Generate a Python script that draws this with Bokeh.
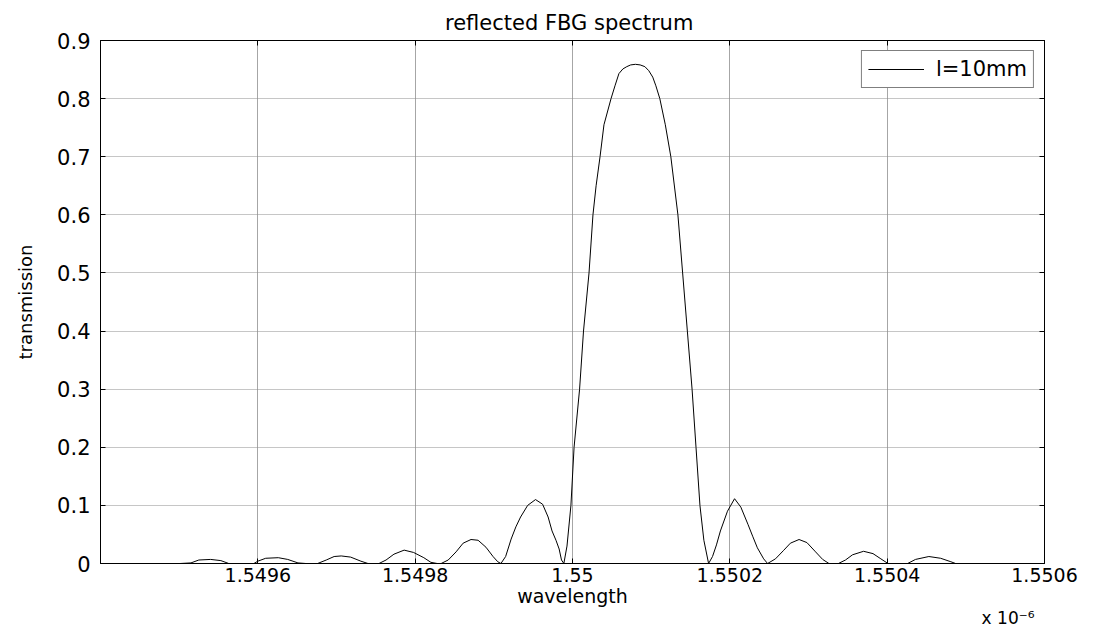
from bokeh.plotting import figure
from bokeh.models import (Range1d, FixedTicker, CustomJSTickFormatter, Title,
                          Legend, LegendItem, LinearAxis)
from bokeh.embed import file_html
from bokeh.resources import INLINE

# ---- data (wavelength in units of 1e-6 m) ----
wavelength = [
    1.549501, 1.549515, 1.549525, 1.549540, 1.549553, 1.549563, 1.549579,
    1.549595, 1.549600, 1.549610, 1.549626, 1.549638, 1.549651, 1.549661,
    1.549676, 1.549687, 1.549697, 1.549706, 1.549718, 1.549731, 1.549740,
    1.549754, 1.549763, 1.549773, 1.549786, 1.549798, 1.549811, 1.549820,
    1.549828, 1.549833, 1.549842, 1.549852, 1.549861, 1.549871, 1.549880,
    1.549890, 1.549899, 1.549905, 1.549909, 1.549915, 1.549922, 1.549928,
    1.549934, 1.549943, 1.549953, 1.549962, 1.549969, 1.549974, 1.549979,
    1.549983, 1.549986, 1.549989, 1.549993, 1.549998, 1.550002, 1.550009,
    1.550014, 1.550021, 1.550026, 1.550030, 1.550035, 1.550040, 1.550049,
    1.550054, 1.550059, 1.550064, 1.550069, 1.550074, 1.550080, 1.550086,
    1.550092, 1.550097, 1.550102, 1.550106, 1.550111, 1.550118, 1.550125,
    1.550134, 1.550140,
    1.550146, 1.550152, 1.550157, 1.550162, 1.550167, 1.550173, 1.550178,
    1.550183, 1.550188, 1.550197, 1.550206, 1.550214, 1.550223, 1.550229,
    1.550235, 1.550243, 1.550248, 1.550258, 1.550268, 1.550277, 1.550288,
    1.550298, 1.550309, 1.550318, 1.550326, 1.550338, 1.550347, 1.550356,
    1.550370, 1.550382, 1.550392, 1.550401, 1.550426, 1.550436, 1.550453,
    1.550468, 1.550481, 1.550487, 1.550500,
]
transmission = [
    0.0, 0.001, 0.006, 0.007, 0.005, 0.0, 0.0,
    0.0, 0.004, 0.009, 0.010, 0.007, 0.001, 0.0,
    0.0, 0.006, 0.012, 0.013, 0.011, 0.004, 0.0,
    0.0, 0.006, 0.016, 0.023, 0.019, 0.010, 0.002,
    0.0, 0.0, 0.006, 0.020, 0.035, 0.0413, 0.040,
    0.028, 0.012, 0.003, 0.0, 0.012, 0.042, 0.063,
    0.080, 0.100, 0.110, 0.102, 0.080, 0.056, 0.040,
    0.025, 0.006, 0.0, 0.03, 0.1, 0.2, 0.3,
    0.4, 0.5, 0.6, 0.65, 0.7, 0.755, 0.8,
    0.822, 0.843, 0.851, 0.855, 0.858, 0.859, 0.858,
    0.855, 0.848, 0.837, 0.822, 0.8, 0.755, 0.7,
    0.6, 0.5,
    0.4, 0.3, 0.2, 0.1, 0.04, 0.0, 0.012,
    0.032, 0.056, 0.090, 0.1115, 0.097, 0.0675, 0.047,
    0.027, 0.008, 0.0, 0.008, 0.022, 0.035, 0.0413,
    0.036, 0.020, 0.007, 0.0, 0.0, 0.006, 0.015,
    0.021, 0.017, 0.008, 0.0, 0.0, 0.007, 0.012,
    0.009, 0.003, 0.0, 0.0,
]
x_ticks = [1.5496, 1.5498, 1.5500, 1.5502, 1.5504, 1.5506]
y_ticks = [0.0, 0.1, 0.2, 0.3, 0.4, 0.5, 0.6, 0.7, 0.8, 0.9]
series_label = "l=10mm"
title_text = "reflected  FBG spectrum"
x_label = "wavelength"
x_multiplier = "x 10\u207b\u2076"
y_label = "transmission"

FONT = "DejaVu Sans"

p = figure(width=1096, height=628, output_backend="svg", toolbar_location=None,
           x_range=Range1d(1.5494, 1.5506), y_range=Range1d(0, 0.9),
           min_border_left=100, min_border_right=52, min_border_top=40,
           min_border_bottom=65)
p.background_fill_color = "white"
p.border_fill_color = "white"
p.outline_line_color = "black"
p.outline_line_width = 1

p.title.text = title_text
p.title.align = "center"
p.title.text_font = FONT
p.title.text_font_size = "21px"
p.title.text_font_style = "normal"
p.title.text_color = "black"
p.title.offset = 0
p.title.standoff = 12

xfmt = CustomJSTickFormatter(code="""
var s = tick.toFixed(4);
s = s.replace(/0+$/, '');
s = s.replace(/\\.$/, '');
return s;
""")
yfmt = CustomJSTickFormatter(code="""
if (Math.abs(tick) < 1e-9) { return '0'; }
return tick.toFixed(1);
""")
blank = CustomJSTickFormatter(code="return '';")

xa = p.xaxis[0]
xa.ticker = FixedTicker(ticks=x_ticks)
xa.formatter = xfmt
xa.axis_label = x_label
ya = p.yaxis[0]
ya.ticker = FixedTicker(ticks=y_ticks)
ya.formatter = yfmt
ya.axis_label = y_label

for ax in (xa, ya):
    ax.axis_line_color = "black"
    ax.major_tick_line_color = "black"
    ax.major_tick_in = 5
    ax.major_tick_out = 0
    ax.minor_tick_line_color = None
    ax.major_label_text_font = FONT
    ax.major_label_text_color = "black"
    ax.axis_label_text_font = FONT
    ax.axis_label_text_font_style = "normal"
    ax.axis_label_text_color = "black"

ya.major_label_text_font_size = "21px"
ya.major_label_standoff = 10
ya.axis_label_text_font_size = "18px"
ya.axis_label_standoff = 18

xa.major_label_text_font_size = "19px"
xa.major_label_standoff = 4
xa.axis_label_text_font_size = "19px"
xa.axis_label_standoff = 0

# box ticks on the top and right edges
top_ax = LinearAxis(ticker=FixedTicker(ticks=x_ticks), formatter=blank,
                    major_tick_in=5, major_tick_out=0, major_label_standoff=0,
                    minor_tick_line_color=None, axis_line_color="black",
                    major_tick_line_color="black")
right_ax = LinearAxis(ticker=FixedTicker(ticks=y_ticks), formatter=blank,
                      major_tick_in=5, major_tick_out=0, major_label_standoff=0,
                      minor_tick_line_color=None, axis_line_color="black",
                      major_tick_line_color="black")
p.add_layout(top_ax, "above")
p.add_layout(right_ax, "right")

# multiplier shown under the right end of the x axis
mult = Title(text=x_multiplier, align="right", vertical_align="top",
             text_font=FONT, text_font_size="17px", text_font_style="normal",
             text_color="black", standoff=-3, offset=10)
p.add_layout(mult, "below")

p.xgrid.ticker = FixedTicker(ticks=x_ticks)
p.ygrid.ticker = FixedTicker(ticks=y_ticks)
p.xgrid.grid_line_color = "#a6a6a6"
p.xgrid.grid_line_width = 1
p.ygrid.grid_line_color = "#8c8c8c"
p.ygrid.grid_line_dash = "1 1"
p.ygrid.grid_line_width = 1

r = p.line(wavelength, transmission, line_color="black", line_width=1)

legend = Legend(items=[LegendItem(label=series_label, renderers=[r])],
                location="top_right")
legend.label_text_font = FONT
legend.label_text_font_size = "21px"
legend.label_text_color = "black"
legend.border_line_color = "black"
legend.border_line_width = 1
legend.background_fill_color = "white"
legend.background_fill_alpha = 1
legend.padding = 6
legend.margin = 10
legend.glyph_width = 56
legend.glyph_height = 24
legend.label_height = 24
legend.label_standoff = 12
legend.spacing = 0
p.add_layout(legend, "center")

open("out.html", "w").write(file_html(p, INLINE))
